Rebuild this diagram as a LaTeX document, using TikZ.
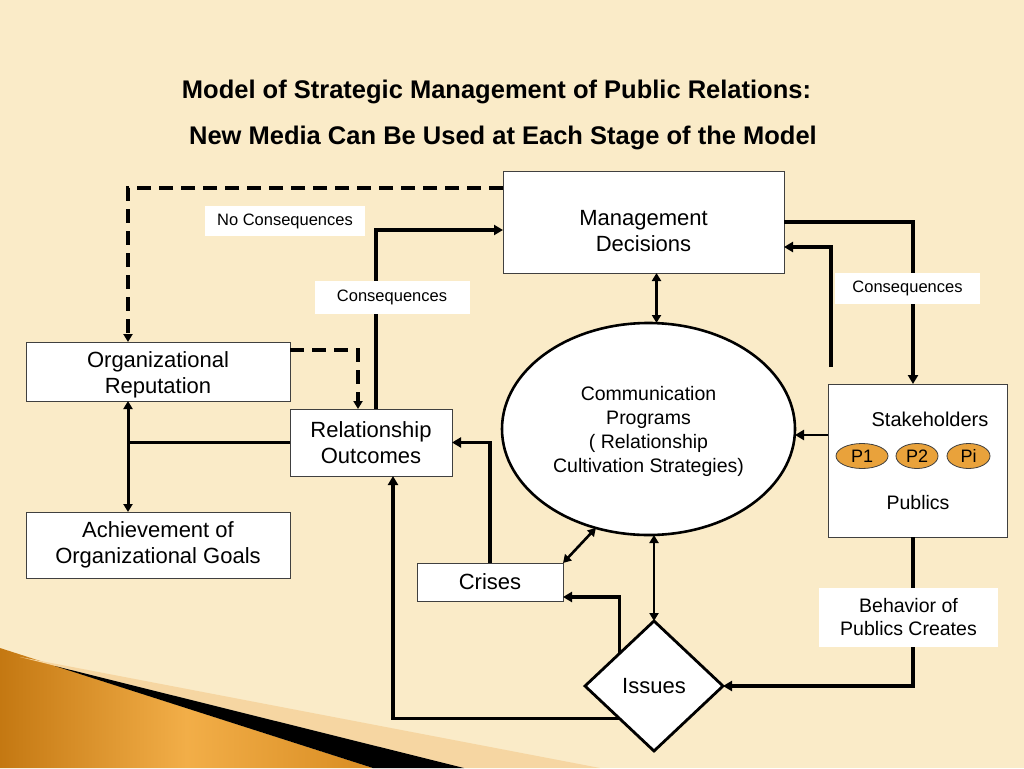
\documentclass[tikz,border=0pt]{standalone}
\usepackage{fontspec}
\setmainfont{Liberation Sans}
\usetikzlibrary{shapes.geometric,arrows.meta,calc}
\definecolor{bg}{HTML}{FAEBC8}
\definecolor{goldA}{HTML}{C47812}
\definecolor{goldB}{HTML}{F2AE48}
\definecolor{goldC}{HTML}{D88C22}
\definecolor{paleband}{HTML}{F6D6A2}
\definecolor{pfill}{HTML}{E9A23B}
\definecolor{edge}{HTML}{404040}
\begin{document}
\begin{tikzpicture}[x=1pt,y=-1pt,
  box/.style={draw=edge, line width=1pt, fill=white, inner sep=0pt, outer sep=0pt,
    align=center, font=\fontsize{22}{26}\selectfont},
  lbl/.style={fill=white, inner sep=0pt, outer sep=0pt, align=center},
  txt/.style={inner sep=0pt, align=center},
  pell/.style={ellipse, draw=edge, line width=0.8pt, fill=pfill, inner sep=0pt,
    minimum height=25pt, font=\fontsize{18}{20}\selectfont},
  conn/.style={line width=3.3pt, -{Triangle[length=9pt,width=10pt]}},
  plain/.style={line width=3.3pt},
  dbl/.style={line width=2.6pt, {Triangle[length=8pt,width=9pt]}-{Triangle[length=8pt,width=9pt]}},
  dsh/.style={line width=3.3pt, dash pattern=on 14pt off 8pt, -{Triangle[length=8pt,width=9pt]}},
  title/.style={font=\bfseries\fontsize{25.5}{29}\selectfont, inner sep=0pt, anchor=base}
]
% background
\fill[bg] (0,0) rectangle (1024,768);
\useasboundingbox (0,0) rectangle (1024,768);
% corner decoration
\shade[left color=goldA, right color=goldC, middle color=goldB] (0,648) -- (373,768) -- (0,768) -- cycle;
\fill[paleband] (20,657) -- (600,768) -- (464,768) -- cycle;
\fill[black] (55,666) -- (464,768) -- (373,768) -- cycle;

% title
\node[title] (t1) at (496.5,98) {Model of Strategic Management of Public Relations:};
\node[title] (t2) at (503,144) {New Media Can Be Used at Each Stage of the Model};

% main nodes
\node[box, minimum width=281pt, minimum height=102pt] (md) at (643.5,222) {};
\node[txt, font=\fontsize{22}{26}\selectfont] (mdt) at (643.5,231) {Management\\Decisions};
\node[box, minimum width=264pt, minimum height=59pt] (or) at (158,371.5) {};
\node[txt, font=\fontsize{22}{26}\selectfont] (ort) at (158,375) {Organizational\\Reputation};
\node[box, minimum width=162pt, minimum height=67pt] (ro) at (371,442.5) {Relationship\\Outcomes};
\node[box, minimum width=264pt, minimum height=66pt] (ach) at (158,545) {Achievement of\\Organizational Goals};
\node[box, minimum width=146pt, minimum height=38pt] (cr) at (490,582) {Crises};
\node[ellipse, draw=black, line width=2.6pt, fill=white, inner sep=0pt, outer sep=0pt,
  minimum width=293pt, minimum height=212pt] (cp) at (648.5,429) {};
\node[txt, font=\fontsize{19.5}{24}\selectfont] (cpt) at (648.5,431)
  {Communication\\Programs\\( Relationship\\Cultivation Strategies)};
\node[box, minimum width=179pt, minimum height=153pt] (sh) at (917.5,460.5) {};
\node[txt, font=\fontsize{20}{24}\selectfont] (sht) at (930,419) {Stakeholders};
\node[pell, minimum width=52pt] (p1) at (862,456) {P1};
\node[pell, minimum width=42pt] (p2) at (917,456) {P2};
\node[pell, minimum width=43pt] (pi) at (968.5,456) {Pi};
\node[txt, font=\fontsize{19.5}{24}\selectfont] (pub) at (918,503) {Publics};
\node[diamond, draw=black, line width=2.8pt, fill=white, inner sep=0pt, outer sep=0pt,
  minimum width=138pt, minimum height=130pt, font=\fontsize{22}{26}\selectfont] (is) at (654,686) {Issues};

% connectors
\draw[dsh] ([yshift=34pt]md.west) -| ([xshift=-30pt]or.north);
\draw[dsh] ([yshift=21.5pt]or.east) -| ([xshift=-13pt]ro.north);
\draw[conn] ([xshift=5pt]ro.north) |- ([yshift=-8pt]md.west);
\draw[dbl, line width=3pt] ([xshift=-30pt]or.south) -- ([xshift=-30pt]ach.north);
\draw[plain] (ro.west) -- ([xshift=-30pt]or.south |- ro.west);
\draw[dbl] ([xshift=13pt]md.south) -- ([xshift=13pt]md.south |- cp.north);
\draw[conn] (md.east) -| ([xshift=-4.5pt]sh.north);
\draw[conn] ([xshift=-86.5pt,yshift=17pt]sh.north) |- ([yshift=-25pt]md.east);
\draw[conn, line width=2.7pt] ([yshift=25.5pt]sh.west) -- ([yshift=-6pt]cp.east);
\draw[conn] ([xshift=-4.5pt]sh.south) |- (is.east);
\draw[dbl] (is.north |- cp.south) -- (is.north);
\draw[dbl] (cr.north east) -- (cp.242);
\draw[conn] ($(is.west)!0.5!(is.north)$) |- ([yshift=-15pt]cr.east);
\draw[conn] (cr.north) |- (ro.east);
\draw[conn] ($(is.west)!0.5!(is.south)$) -| ([xshift=22pt]ro.south);

% labels
\node[lbl, minimum width=160pt, minimum height=30pt, font=\fontsize{16.5}{20}\selectfont] (nc) at (285,221) {No Consequences};
\node[lbl, minimum width=155pt, minimum height=33pt, font=\fontsize{16.5}{20}\selectfont] (c1) at (392,297.5) {Consequences};
\node[lbl, minimum width=145pt, minimum height=31pt, font=\fontsize{16.5}{20}\selectfont] (c2) at (907.5,288.5) {Consequences};
\node[lbl, minimum width=179pt, minimum height=59pt, font=\fontsize{19.5}{23}\selectfont] (bp) at (908.5,617.5) {Behavior of\\Publics Creates};
\end{tikzpicture}
\end{document}
